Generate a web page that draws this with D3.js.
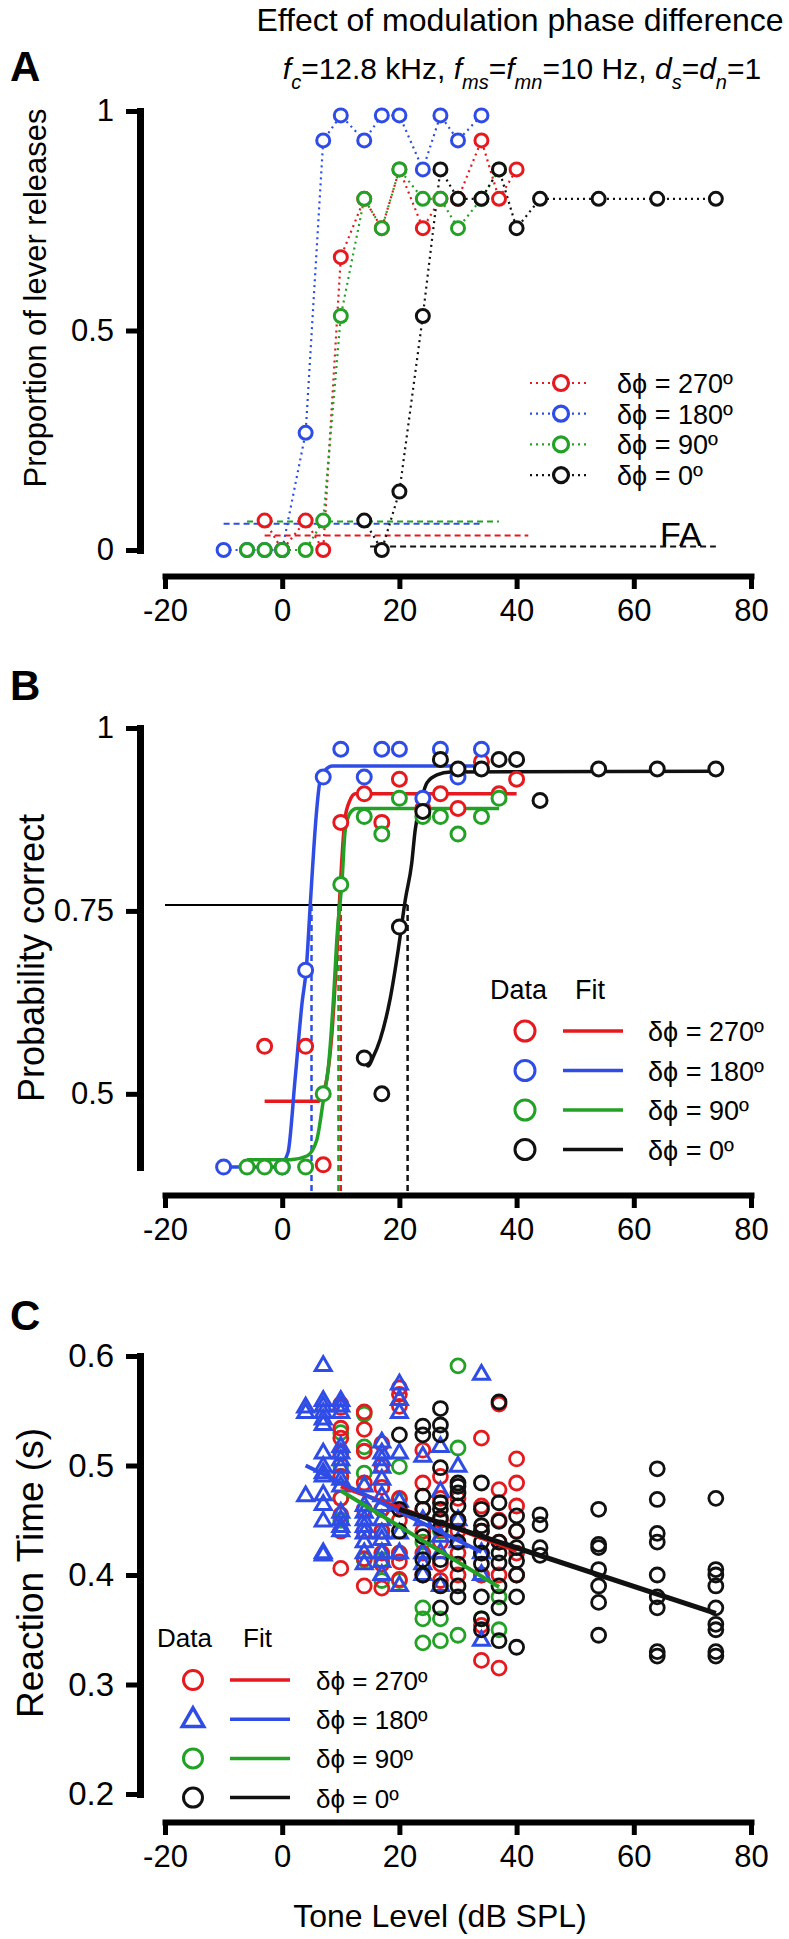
<!DOCTYPE html>
<html><head><meta charset="utf-8">
<script src="https://cdn.jsdelivr.net/npm/d3@7"></script>
<style>
body{margin:0;background:#fff;}
svg{display:block;}
text{font-family:"Liberation Sans",Arial,Helvetica,sans-serif;fill:#000;}
</style></head><body>
<script>
// ---------------- DATA ----------------
const phases = ["270", "180", "90", "0"];
const legendLabels = ["δϕ = 270º", "δϕ = 180º", "δϕ = 90º", "δϕ = 0º"];
const xTicks = [-20, 0, 20, 40, 60, 80];
const yTicksA = [0, 0.5, 1];
const yTicksB = [0.5, 0.75, 1];
const yTicksC = [0.2, 0.3, 0.4, 0.5, 0.6];

// Panel A: proportion of lever releases [level, proportion]
const relRed   = [[-3,0.067],[0,0.0],[4,0.067],[7,0.0],[10,0.667],[14,0.80],[17,0.733],[20,0.867],[24,0.733],[27,0.80],[30,0.80],[34,0.933],[37,0.80],[40,0.867]];
const relBlue  = [[-10,0.0],[-6,0.0],[-3,0.0],[0,0.0],[4,0.267],[7,0.933],[10,0.99],[14,0.933],[17,0.99],[20,0.99],[24,0.867],[27,0.99],[30,0.933],[34,0.99]];
const relGreen = [[-6,0.0],[-3,0.0],[0,0.0],[4,0.0],[7,0.067],[10,0.533],[14,0.80],[17,0.733],[20,0.867],[24,0.80],[27,0.80],[30,0.733],[34,0.80],[37,0.867]];
const relBlack = [[14,0.067],[17,0.0],[20,0.133],[24,0.533],[27,0.867],[30,0.80],[34,0.80],[37,0.867],[40,0.733],[44,0.80],[54,0.80],[64,0.80],[74,0.80]];
const faRates  = [0.033, 0.06, 0.065, 0.008];          // false-alarm rate per phase (270,180,90,0)
const faSpans  = [[-3, 42], [-10, 34], [-6, 37], [15, 74]]; // level extent of each FA line

// Panel B: probability correct [level, p]
const pcRed   = [[-3,0.565],[4,0.565],[7,0.403],[10,0.871],[14,0.910],[17,0.871],[20,0.930],[24,0.89],[27,0.910],[30,0.890],[34,0.954],[37,0.910],[40,0.930]];
const pcBlue  = [[-10,0.40],[0,0.40],[4,0.669],[7,0.933],[10,0.971],[14,0.933],[17,0.971],[20,0.971],[24,0.904],[27,0.971],[30,0.933],[34,0.971]];
const pcGreen = [[-6,0.40],[-3,0.40],[0,0.40],[4,0.40],[7,0.50],[10,0.786],[14,0.879],[17,0.855],[20,0.904],[24,0.879],[27,0.879],[30,0.855],[34,0.879],[37,0.904]];
const pcBlack = [[14,0.549],[17,0.50],[20,0.728],[24,0.886],[27,0.957],[30,0.944],[34,0.944],[37,0.957],[40,0.957],[44,0.901],[54,0.944],[64,0.944],[74,0.944]];
// Panel B: fitted psychometric curves (points read along each fit)
const fitRedB   = [[-3,0.49],[6.3,0.49],[6.9,0.50],[7.6,0.52],[8.5,0.584],[9.1,0.66],[9.6,0.735],[10.1,0.81],[10.7,0.875],[11.5,0.900],[12.5,0.910],[40,0.910]];
const fitBlueB  = [[-10,0.40],[-1,0.40],[0,0.405],[1,0.42],[2.2,0.52],[3.4,0.625],[4.1,0.67],[4.8,0.76],[5.8,0.88],[6.4,0.925],[7.3,0.942],[8.6,0.948],[34,0.948]];
const fitGreenB = [[-6,0.41],[1.4,0.41],[4.2,0.415],[5.9,0.437],[7,0.49],[7.9,0.538],[8.75,0.63],[9.4,0.72],[10.2,0.79],[10.75,0.86],[11.6,0.884],[12.7,0.890],[37,0.890]];
const fitBlackB = [[14,0.545],[14.7,0.538],[15.5,0.55],[16.7,0.574],[18.4,0.629],[19.8,0.697],[21,0.765],[22.1,0.815],[22.7,0.861],[23.5,0.893],[24.7,0.925],[26.4,0.936],[28.7,0.940],[74,0.941]];
const thresholdsB = [10.0, 5.0, 9.6, 21.4];
const criterionB = 0.758;

// Panel C: reaction times (s) per level
const rtRed = [
  [10,[0.556,0.553,0.534,0.525,0.511,0.49,0.47,0.455,0.44,0.406]],
  [14,[0.549,0.533,0.513,0.484,0.46,0.44,0.415,0.39]],
  [17,[0.52,0.50,0.48,0.46,0.44,0.42,0.41,0.388]],
  [20,[0.571,0.565,0.554,0.47,0.45,0.42,0.412,0.396]],
  [24,[0.514,0.484,0.46,0.44,0.42,0.40]],
  [27,[0.49,0.47,0.45,0.43,0.41,0.395]],
  [30,[0.47,0.45,0.44,0.42,0.40]],
  [34,[0.525,0.463,0.44,0.42,0.40,0.354,0.322]],
  [37,[0.556,0.478,0.45,0.43,0.40,0.315]],
  [40,[0.506,0.484,0.463,0.44,0.42,0.40]]
];
const rtBlue = [
  [4,[0.553,0.548,0.472]],
  [7,[0.591,0.559,0.554,0.548,0.542,0.537,0.511,0.499,0.493,0.49,0.473,0.464,0.449,0.42,0.418]],
  [10,[0.559,0.554,0.548,0.517,0.511,0.505,0.498,0.487,0.481,0.457,0.45,0.444,0.44]],
  [14,[0.481,0.463,0.457,0.45,0.444,0.438,0.43,0.42,0.41]],
  [17,[0.521,0.511,0.505,0.498,0.487,0.472,0.463,0.45,0.438,0.432,0.42,0.412,0.40]],
  [20,[0.574,0.56,0.548,0.511,0.467,0.438,0.42,0.39]],
  [24,[0.508,0.45,0.42,0.41,0.40]],
  [27,[0.517,0.476,0.435,0.42,0.39]],
  [30,[0.499,0.45,0.43]],
  [34,[0.583,0.42,0.40,0.34]]
];
const rtGreen = [
  [10,[0.53,0.50,0.49,0.47,0.45]],
  [14,[0.547,0.517,0.493,0.414]],
  [17,[0.46,0.44,0.414,0.395]],
  [20,[0.499,0.469,0.42,0.395]],
  [24,[0.43,0.37,0.36,0.338]],
  [27,[0.44,0.36,0.34]],
  [30,[0.591,0.516,0.345]],
  [34,[0.40,0.36]],
  [37,[0.38,0.35]]
];
const rtBlack = [
  [20,[0.528,0.46,0.44]],
  [24,[0.536,0.528,0.472,0.46,0.435,0.414,0.40]],
  [27,[0.552,0.537,0.528,0.498,0.466,0.46,0.452,0.443,0.414,0.39,0.37]],
  [30,[0.484,0.481,0.475,0.463,0.45,0.43,0.41,0.39,0.38]],
  [34,[0.484,0.46,0.445,0.44,0.43,0.42,0.41,0.38,0.36,0.35]],
  [37,[0.558,0.466,0.449,0.43,0.42,0.411,0.39,0.37,0.34]],
  [40,[0.454,0.44,0.425,0.413,0.40,0.38,0.334]],
  [44,[0.455,0.446,0.425,0.418]],
  [54,[0.46,0.428,0.425,0.405,0.39,0.375,0.345]],
  [64,[0.497,0.469,0.438,0.43,0.40,0.38,0.37,0.33,0.326]],
  [74,[0.47,0.405,0.40,0.39,0.37,0.355,0.35,0.33,0.326]]
];
// Panel C: linear fits [level, rt] at the ends of each fit line
const fitRedC   = [[10,0.481],[40,0.422]];
const fitBlueC  = [[4,0.50],[34,0.421]];
const fitGreenC = [[10,0.477],[37,0.389]];
const fitBlackC = [[20,0.46],[74,0.365]];

// ---------------- STYLE ----------------
const W = 789, H = 1939;
const FONT = '"Liberation Sans", Arial, Helvetica, sans-serif';
const col = ["#e5191e", "#2f4de6", "#23a126", "#111111"];

const svg = d3.select("body").append("svg").attr("width", W).attr("height", H);

const x  = d3.scaleLinear().domain([-20, 80]).range([165, 751]);
const yA = d3.scaleLinear().domain([0, 1]).range([550, 111]);
const yB = d3.scaleLinear().domain([0.4, 1]).range([1167, 728]);
const yC = d3.scaleLinear().domain([0.2, 0.6]).range([1794, 1356]);

function yAxis(scale, ticks, fs) {
  const g = svg.append("g").attr("transform", "translate(140,0)")
    .call(d3.axisLeft(scale).tickValues(ticks).tickFormat(d => String(d))
      .tickSize(14).tickSizeOuter(0).tickPadding(12));
  g.select(".domain").attr("stroke", "#000").attr("stroke-width", 7).attr("stroke-linecap", "square");
  g.selectAll(".tick line").attr("stroke", "#000").attr("stroke-width", 5);
  g.selectAll("text").attr("font-size", fs).attr("font-family", FONT).attr("fill", "#000");
}
function xAxis(yPos) {
  const g = svg.append("g").attr("transform", `translate(0,${yPos})`)
    .call(d3.axisBottom(x).tickValues(xTicks).tickFormat(d => String(d)).tickSize(13).tickSizeOuter(0));
  g.select(".domain").attr("stroke", "#000").attr("stroke-width", 6).attr("stroke-linecap", "square");
  g.selectAll(".tick line").attr("stroke", "#000").attr("stroke-width", 5);
  g.selectAll("text").attr("y", 45).attr("dy", 0).attr("font-size", 31).attr("font-family", FONT).attr("fill", "#000");
}
function text(xp, yp, s, size, opts = {}) {
  const t = svg.append("text").attr("x", xp).attr("y", yp).attr("font-size", size).text(s);
  if (opts.anchor) t.attr("text-anchor", opts.anchor);
  if (opts.weight) t.attr("font-weight", opts.weight);
  if (opts.rotate) t.attr("transform", `rotate(-90,${xp},${yp})`);
  return t;
}

// ---------------- TITLE ----------------
text(520, 31, "Effect of modulation phase difference", 32, {anchor: "middle"});
const t2 = svg.append("text").attr("x", 522).attr("y", 79).attr("font-size", 30).attr("text-anchor", "middle");
const parts = [["f","i"],["c","s"],["=12.8 kHz, ",""],["f","i"],["ms","s"],["=",""],["f","i"],["mn","s"],["=10 Hz, ",""],["d","i"],["s","s"],["=",""],["d","i"],["n","s"],["=1",""]];
let lastSub = false;
parts.forEach(([s, k]) => {
  const ts = t2.append("tspan").text(s);
  if (k === "i") ts.attr("font-style", "italic");
  if (k === "s") { ts.attr("font-style", "italic").attr("font-size", 20).attr("dy", 10); lastSub = true; }
  else if (lastSub) { ts.attr("dy", -10); lastSub = false; }
});
text(10, 81, "A", 42, {weight: "bold"});

// ---------------- PANEL A ----------------
const relAll = [relRed, relBlue, relGreen, relBlack];
yAxis(yA, yTicksA, 31);
xAxis(576);
text(46, 298, "Proportion of lever releases", 31, {anchor: "middle", rotate: true});
const gA = svg.append("g");
relAll.forEach((s, i) => {
  gA.append("line").attr("x1", x(faSpans[i][0])).attr("x2", x(faSpans[i][1]))
    .attr("y1", yA(faRates[i])).attr("y2", yA(faRates[i]))
    .attr("stroke", col[i]).attr("stroke-width", 2).attr("stroke-dasharray", "6,4");
});
const lineA = d3.line().x(d => x(d[0])).y(d => yA(d[1]));
relAll.forEach((s, i) => {
  gA.append("path").attr("d", lineA(s)).attr("fill", "none").attr("stroke", col[i])
    .attr("stroke-width", 2.2).attr("stroke-dasharray", "2,4");
});
relAll.forEach((s, i) => {
  gA.selectAll(null).data(s).enter().append("circle")
    .attr("cx", d => x(d[0])).attr("cy", d => yA(d[1])).attr("r", 6.5)
    .attr("fill", "#fff").attr("stroke", col[i]).attr("stroke-width", 3);
});
text(660, 546, "FA", 34);
// legend A
legendLabels.forEach((lab, i) => {
  const yy = 383 + i * 30.7;
  gA.append("line").attr("x1", 530).attr("x2", 590).attr("y1", yy).attr("y2", yy)
    .attr("stroke", col[i]).attr("stroke-width", 2.2).attr("stroke-dasharray", "2,4");
  gA.append("circle").attr("cx", 561).attr("cy", yy).attr("r", 7.5).attr("fill", "#fff")
    .attr("stroke", col[i]).attr("stroke-width", 3.2);
  text(617, yy + 10, lab, 27);
});

// ---------------- PANEL B ----------------
text(10, 700, "B", 42, {weight: "bold"});
yAxis(yB, yTicksB, 31);
xAxis(1195);
text(44, 958, "Probability correct", 36, {anchor: "middle", rotate: true});
const gB = svg.append("g");
gB.append("line").attr("x1", x(-20)).attr("x2", x(thresholdsB[3])).attr("y1", yB(criterionB)).attr("y2", yB(criterionB))
  .attr("stroke", "#000").attr("stroke-width", 2);
thresholdsB.forEach((t, i) => {
  gB.append("line").attr("x1", x(t)).attr("x2", x(t)).attr("y1", yB(criterionB)).attr("y2", 1192)
    .attr("stroke", col[i]).attr("stroke-width", 2.5).attr("stroke-dasharray", "6,4");
});
const lineB = d3.line().x(d => x(d[0])).y(d => yB(d[1])).curve(d3.curveMonotoneX);
[fitRedB, fitBlueB, fitGreenB, fitBlackB].forEach((s, i) => {
  gB.append("path").attr("d", lineB(s)).attr("fill", "none").attr("stroke", col[i]).attr("stroke-width", 3.5);
});
[pcRed, pcBlue, pcGreen, pcBlack].forEach((s, i) => {
  gB.selectAll(null).data(s).enter().append("circle")
    .attr("cx", d => x(d[0])).attr("cy", d => yB(d[1])).attr("r", 7)
    .attr("fill", "#fff").attr("stroke", col[i]).attr("stroke-width", 3);
});
text(490, 999, "Data", 27);
text(575, 999, "Fit", 27);
legendLabels.forEach((lab, i) => {
  const yy = 1031 + i * 39.5;
  gB.append("circle").attr("cx", 525).attr("cy", yy).attr("r", 10).attr("fill", "#fff")
    .attr("stroke", col[i]).attr("stroke-width", 3);
  gB.append("line").attr("x1", 563).attr("x2", 623).attr("y1", yy).attr("y2", yy)
    .attr("stroke", col[i]).attr("stroke-width", 3.5);
  text(648, yy + 10, lab, 27);
});

// ---------------- PANEL C ----------------
text(10, 1330, "C", 42, {weight: "bold"});
yAxis(yC, yTicksC, 33);
xAxis(1822);
text(43, 1573, "Reaction Time (s)", 37, {anchor: "middle", rotate: true});
text(440, 1927, "Tone Level (dB SPL)", 32, {anchor: "middle"});
const gC = svg.append("g");
const tri = d3.symbol().type(d3.symbolTriangle).size(110);
function flat(arr) { return arr.flatMap(([lv, vals]) => vals.map(v => [lv, v])); }
const drawOrder = [2, 0, 1, 3];
const rtAll = [rtRed, rtBlue, rtGreen, rtBlack];
drawOrder.forEach(i => {
  const pts = flat(rtAll[i]);
  if (i === 1) {
    gC.selectAll(null).data(pts).enter().append("path").attr("d", tri)
      .attr("transform", d => `translate(${x(d[0])},${yC(d[1])})`)
      .attr("fill", "none").attr("stroke", col[i]).attr("stroke-width", 3);
  } else {
    gC.selectAll(null).data(pts).enter().append("circle")
      .attr("cx", d => x(d[0])).attr("cy", d => yC(d[1])).attr("r", 7)
      .attr("fill", "none").attr("stroke", col[i]).attr("stroke-width", 2.8);
  }
});
const lineC = d3.line().x(d => x(d[0])).y(d => yC(d[1]));
[fitRedC, fitBlueC, fitGreenC, fitBlackC].forEach((s, i) => {
  gC.append("path").attr("d", lineC(s)).attr("fill", "none").attr("stroke", col[i]).attr("stroke-width", i === 3 ? 5 : 4);
});
text(157, 1647, "Data", 26);
text(243, 1647, "Fit", 26);
legendLabels.forEach((lab, i) => {
  const yy = 1680 + i * 39.2;
  if (i === 1) {
    gC.append("path").attr("d", d3.symbol().type(d3.symbolTriangle).size(200)).attr("transform", `translate(193,${yy + 1})`)
      .attr("fill", "none").attr("stroke", col[i]).attr("stroke-width", 3.5);
  } else {
    gC.append("circle").attr("cx", 193).attr("cy", yy).attr("r", 9.5).attr("fill", "none")
      .attr("stroke", col[i]).attr("stroke-width", 3);
  }
  gC.append("line").attr("x1", 230).attr("x2", 290).attr("y1", yy).attr("y2", yy)
    .attr("stroke", col[i]).attr("stroke-width", 3.5);
  text(316, yy + 10, lab, 26);
});
</script>
</body></html>
